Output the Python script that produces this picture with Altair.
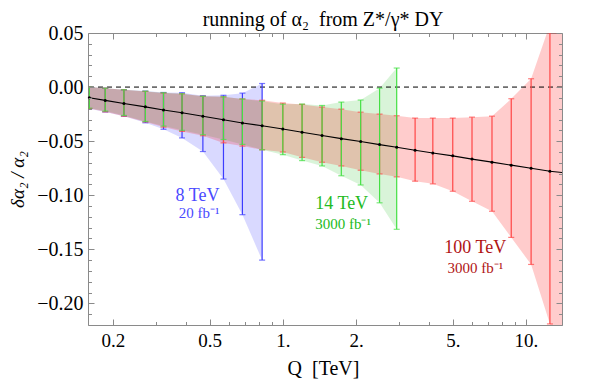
import altair as alt
import pandas as pd

# ---- data ----
Q = [0.16, 0.186, 0.222, 0.272, 0.323, 0.385, 0.469, 0.57, 0.682, 0.822,
     1.0, 1.2, 1.45, 1.74, 2.09, 2.5, 2.94, 3.5, 4.14, 5.0, 6.0, 7.25, 8.7, 10.5, 12.55]
center = [-0.0098, -0.0123, -0.0152, -0.0183, -0.0212, -0.0238, -0.0270, -0.0302, -0.0332, -0.0358,
          -0.0388, -0.0418, -0.0448, -0.0477, -0.0504, -0.0532, -0.0557, -0.0584, -0.0609, -0.0636,
          -0.0666, -0.0694, -0.0722, -0.0751, -0.0779]
line_end_q = [0.158, 14.07]
line_end_v = [-0.0097, -0.0790]

blue_upper = [0.0000, -0.0010, -0.0025, -0.0037, -0.0050, -0.0052, -0.0080, -0.0076, -0.0056, 0.0033]
blue_lower = [-0.0200, -0.0230, -0.0270, -0.0330, -0.0390, -0.0470, -0.0596, -0.0850, -0.1180, -0.1600]

green_upper = [0.0000, -0.0010, -0.0025, -0.0038, -0.0053, -0.0062, -0.0085, -0.0090, -0.0110, -0.0130,
               -0.0158, -0.0157, -0.0170, -0.0139, -0.0120, -0.0010, 0.0176]
green_lower = [-0.0195, -0.0222, -0.0262, -0.0318, -0.0360, -0.0400, -0.0440, -0.0485, -0.0530, -0.0580,
               -0.0625, -0.0680, -0.0729, -0.0820, -0.0905, -0.1070, -0.1315]

red_upper = [0.0000, -0.0010, -0.0025, -0.0040, -0.0055, -0.0062, -0.0085, -0.0090, -0.0110, -0.0122,
             -0.0148, -0.0160, -0.0185, -0.0204, -0.0232, -0.0250, -0.0265, -0.0287, -0.0287, -0.0287,
             -0.0278, -0.0269, -0.0108, 0.0077, 0.0580]
red_lower = [-0.0198, -0.0229, -0.0269, -0.0322, -0.0370, -0.0410, -0.0450, -0.0516, -0.0546, -0.0580,
             -0.0600, -0.0650, -0.0695, -0.0729, -0.0769, -0.0803, -0.0830, -0.0870, -0.0895, -0.0963,
             -0.1056, -0.1148, -0.1390, -0.1640, -0.2190]
red_tail_q = [14.07]
red_tail_upper = [0.12]
red_tail_lower = [-0.30]

labels_text = ["8 TeV", "20 fb⁻¹", "14 TeV", "3000 fb⁻¹", "100 TeV", "3000 fb⁻¹"]
labels_q = [0.446, 0.453, 1.746, 1.77, 6.19, 6.19]
labels_v = [-0.1004, -0.1168, -0.1080, -0.1262, -0.1488, -0.1670]
labels_size = [18, 15, 18, 15, 18, 15]
labels_color = ["#4a4aff", "#4a4aff", "#22bb22", "#22bb22", "#b01414", "#b01414"]

title_text = "running of α₂\u00a0\u00a0from Z*/γ* DY"

x_major = [0.2, 0.5, 1, 2, 5, 10]
x_minor = [0.3, 0.4, 0.6, 0.7, 0.8, 0.9, 3, 4, 6, 7, 8, 9]
y_major = [-0.20, -0.15, -0.10, -0.05, 0.00, 0.05]
y_minor = [-0.22, -0.21, -0.19, -0.18, -0.17, -0.16, -0.14, -0.13, -0.12, -0.11, -0.09, -0.08,
           -0.07, -0.06, -0.04, -0.03, -0.02, -0.01, 0.01, 0.02, 0.03, 0.04]

W, H = 474, 292
XD = [0.158, 14.07]
YD = [-0.22, 0.05]
FONT = "Liberation Serif, Times New Roman, serif"
TICK = "#8a8a8a"

xs = alt.Scale(type="log", domain=XD)
ys = alt.Scale(domain=YD, nice=False, zero=False)


def X(field, axis=None):
    if axis is None:
        return alt.X(field, type="quantitative", scale=xs, axis=None)
    return alt.X(field, type="quantitative", scale=xs, axis=axis, title="")


def Y(field, axis=None):
    if axis is None:
        return alt.Y(field, type="quantitative", scale=ys, axis=None)
    return alt.Y(field, type="quantitative", scale=ys, axis=axis, title="")


def band(q, lo, hi, color, op):
    df = pd.DataFrame({"Q": q, "lo": lo, "hi": hi})
    return alt.Chart(df).mark_area(color=color, opacity=op, clip=True).encode(
        x=X("Q"), y=Y("lo"), y2="hi")


def bars(q, lo, hi, color):
    df = pd.DataFrame({"Q": q, "lo": lo, "hi": hi})
    rule = alt.Chart(df).mark_rule(color=color, strokeWidth=1.2, clip=True).encode(
        x=X("Q"), y=Y("lo"), y2="hi")
    caps = alt.Chart(df).transform_fold(["lo", "hi"]).mark_tick(
        orient="horizontal", color=color, size=6, thickness=1.2, clip=True).encode(
        x=X("Q"), y=Y("value"))
    return [rule, caps]


layers = []
layers.append(band(Q[:10], blue_lower, blue_upper, "#0000ff", 0.15))
layers.append(band(Q[:17], green_lower, green_upper, "#00b400", 0.15))
layers.append(band(Q + red_tail_q, red_lower + red_tail_lower, red_upper + red_tail_upper, "#ff0000", 0.2))

zero_df = pd.DataFrame({"v": [0.0]})
layers.append(alt.Chart(zero_df).mark_rule(color="black", strokeDash=[5, 4], strokeWidth=1).encode(y=Y("v")))

layers += bars(Q[:10], blue_lower, blue_upper, "#3c3cff")
layers += bars(Q, red_lower, red_upper, "#ff4646")
layers += bars(Q[:17], green_lower, green_upper, "#44e044")

line_df = pd.DataFrame({"Q": [line_end_q[0]] + Q + [line_end_q[1]],
                        "v": [line_end_v[0]] + center + [line_end_v[1]]})
layers.append(alt.Chart(line_df).mark_line(color="black", strokeWidth=1.1, clip=True).encode(
    x=X("Q"), y=Y("v")))
pts_df = pd.DataFrame({"Q": Q, "v": center})
layers.append(alt.Chart(pts_df).mark_circle(color="black", size=9, opacity=1).encode(
    x=X("Q"), y=Y("v")))

lab_df = pd.DataFrame({"t": labels_text, "Q": labels_q, "v": labels_v,
                       "s": labels_size, "c": labels_color})
layers.append(alt.Chart(lab_df).mark_text(font=FONT, baseline="middle", align="center").encode(
    x=X("Q"), y=Y("v"), text="t:N",
    size=alt.Size("s:Q", scale=None, legend=None),
    color=alt.Color("c:N", scale=None, legend=None)))

# title drawn as a text mark above the plot
title_df = pd.DataFrame({"t": [title_text]})
layers.append(alt.Chart(title_df).mark_text(font=FONT, fontSize=20, color="black",
                                            baseline="alphabetic", align="center").encode(
    x=alt.value(W / 2 - 2), y=alt.value(-7), text="t:N"))

# ---- axes ----
ax_df = pd.DataFrame({"Q": [1.0], "v": [0.0]})


def axis_layer(xa, ya):
    return alt.Chart(ax_df).mark_point(opacity=0).encode(x=X("Q", xa), y=Y("v", ya))


lab_x = alt.Axis(orient="bottom", values=x_major, ticks=False, domain=False, grid=False,
                 labelExpr="datum.value >= 1 ? datum.value + '.' : '' + datum.value",
                 labelFont=FONT, labelFontSize=19, labelColor="black", labelPadding=6,
                 labelFlush=False, labelOverlap=False,
                 title="Q\u00a0\u00a0[TeV]", titleFont=FONT, titleFontSize=20, titleFontWeight="normal",
                 titleColor="black", titleX=235, titleY=43, titleBaseline="middle", titleAlign="center")
lab_y = alt.Axis(orient="left", values=y_major, ticks=False, domain=False, grid=False, format=".2f",
                 labelFont=FONT, labelFontSize=20, labelColor="black", labelPadding=5,
                 labelFlush=False, labelOverlap=False,
                 title="δα₂ / α₂", titleFont=FONT, titleFontSize=19, titleFontWeight="normal",
                 titleFontStyle="italic", titleColor="black", titleAngle=-90,
                 titleX=-71, titleY=146, titleBaseline="middle", titleAlign="center")
layers.append(axis_layer(lab_x, lab_y))


def tick_axis(orient, values, size, offset):
    return alt.Axis(orient=orient, values=values, labels=False, domain=False, grid=False,
                    ticks=True, tickSize=size, tickColor=TICK, tickWidth=1, offset=offset, zindex=1)


layers.append(axis_layer(tick_axis("top", x_major, 6, -H), tick_axis("right", y_major, 6, -W)))
layers.append(axis_layer(tick_axis("top", x_minor, 3.5, -H), tick_axis("right", y_minor, 3.5, -W)))
layers.append(axis_layer(tick_axis("bottom", x_major, 6, -H), tick_axis("left", y_major, 6, -W)))
layers.append(axis_layer(tick_axis("bottom", x_minor, 3.5, -H), tick_axis("left", y_minor, 3.5, -W)))

chart = alt.layer(*layers).resolve_axis(x="independent", y="independent").properties(
    width=W, height=H,
    autosize=alt.AutoSizeParams(type="none"),
    padding={"left": 80, "top": 25, "right": 20, "bottom": 56},
).configure_view(stroke=TICK, strokeWidth=1)

chart.save("out.html", embed_options={"renderer": "svg", "actions": False})
